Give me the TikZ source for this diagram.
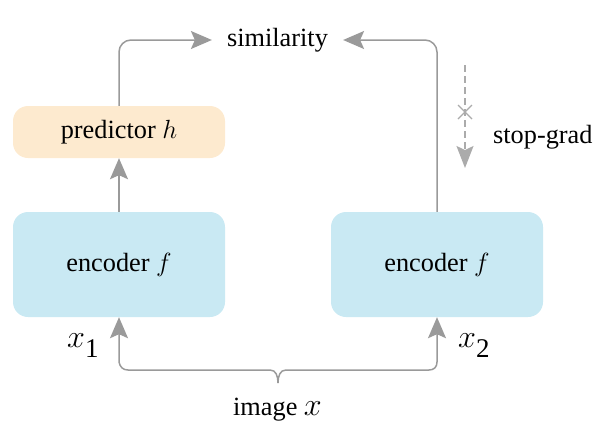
\RequirePackage{fix-cm}
\documentclass[tikz,border=0pt]{standalone}
\usepackage{graphicx}
\usepackage{fontspec}
\setmainfont{Liberation Serif}
\usetikzlibrary{arrows.meta}
\definecolor{arrgray}{HTML}{9A9A9A}
\definecolor{dashgray}{HTML}{ABABAB}
\definecolor{encblue}{HTML}{C9E9F3}
\definecolor{predorange}{HTML}{FDEACF}
\newcommand{\bigx}{\scalebox{1.22}{$x$}}
\newcommand{\xsub}[1]{\bigx\raisebox{-10pt}{\fontsize{27}{32}\selectfont #1}}
\tikzset{
  box/.style={rounded corners=15pt, minimum width=212pt, inner sep=0pt},
  encbox/.style={box, fill=encblue, minimum height=105pt},
  predbox/.style={box, fill=predorange, minimum height=52pt},
  conn/.style={draw=arrgray, line width=1.5pt, -{Stealth[length=21pt,width=18pt,inset=4pt]}},
  sgconn/.style={draw=dashgray, line width=1.3pt, dash pattern=on 7pt off 4pt, -{Stealth[length=22pt,width=17pt,inset=4pt]}},
  lbl/.style={inner sep=0pt},
}
\begin{document}
\begin{tikzpicture}[x=1pt,y=-1pt,font=\fontsize{26.3}{31}\selectfont]
\useasboundingbox (0,0) rectangle (595,437);
\node[encbox] (encL) at (119,264.5) {encoder $f$};
\node[encbox] (encR) at (437,264.5) {encoder $f$};
\node[predbox] (pred) at (119,132) {predictor $h$};
\node[inner xsep=15pt, inner ysep=0pt] (sim) at (277.5,40) {similarity};
\node[lbl, anchor=base west] (x1) at (67,347) {\xsub{1}};
\node[lbl, anchor=base west] (x2) at (458,347) {\xsub{2}};
\node[lbl, anchor=base] (img) at (277.5,415) {image \bigx};
\node[lbl, anchor=west] (sg) at (493,137) {stop-grad};
\coordinate (sgtop) at (465,65);
\coordinate (sgbot) at (465,168);
\coordinate (sgx) at (465,112);
% connectors
\draw[conn] (encL.north) -- (pred.south);
\draw[conn, rounded corners=12pt] (pred.north) |- (sim.west);
\draw[conn, rounded corners=12pt] (encR.north) |- (sim.east);
\draw[sgconn] (sgtop) -- (sgbot);
\draw[draw=dashgray, line width=1.2pt] ([shift={(-7,-7)}]sgx) -- ([shift={(7,7)}]sgx) ([shift={(-7,7)}]sgx) -- ([shift={(7,-7)}]sgx);
\draw[draw=arrgray, line width=1.5pt, {Stealth[length=21pt,width=18pt,inset=4pt]}-{Stealth[length=21pt,width=18pt,inset=4pt]}]
  (encL.south) -- (encL.south |- 0,362) .. controls (120,367) and (123,370) .. (128,370) -- (270,370)
  .. controls (276,370) and (278,376) .. (278,383) .. controls (278,376) and (280,370) .. (286,370) -- (429,370)
  .. controls (434,370) and (437,367) .. (encR.south |- 0,362) -- (encR.south);
\end{tikzpicture}
\end{document}
